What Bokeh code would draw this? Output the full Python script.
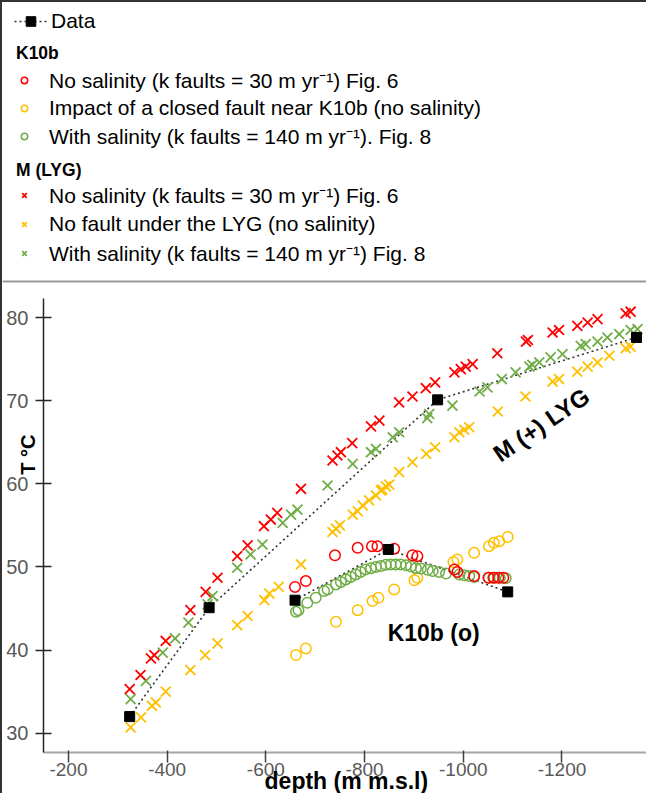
import math
from bokeh.plotting import figure
from bokeh.models import Range1d, Legend, LegendItem, Span, Label, FixedTicker
from bokeh.embed import file_html
from bokeh.resources import INLINE

FONT = "Liberation Sans"

# ---- Measured data (black squares, joined by dotted line) ----
m_data_depth = [-324, -485, -948, -1351]
m_data_temp = [32.0, 45.1, 70.1, 77.6]
k_data_depth = [-659, -848, -1090]
k_data_temp = [46.0, 52.1, 47.0]

# ---- M (LYG) model series (x markers) ----
m_nosal_depth = [-324, -346, -367, -374, -397, -447, -478, -502, -542, -563, -596, -610, -623, -671,
                 -735, -745, -752, -775, -813, -830, -870, -897, -924, -943, -982, -995, -1005, -1019,
                 -1069, -1127, -1131, -1181, -1194, -1231, -1252, -1272, -1329, -1339]
m_nosal_temp = [35.3, 37.0, 39.0, 39.4, 41.1, 44.8, 47.0, 48.7, 51.3, 52.6, 54.9, 55.7, 56.5, 59.4,
                62.8, 63.4, 63.8, 64.9, 66.9, 67.6, 69.8, 70.5, 71.5, 72.2, 73.4, 73.8, 74.1, 74.4,
                75.7, 77.1, 77.3, 78.2, 78.5, 79.0, 79.4, 79.8, 80.5, 80.7]

m_nofault_depth = [-326, -347, -369, -377, -397, -447, -477, -502, -542, -563, -597, -607, -626, -671,
                   -735, -742, -750, -776, -786, -796, -809, -823, -833, -836, -843, -850, -870, -897,
                   -925, -943, -982, -992, -1002, -1012, -1070, -1126, -1181, -1194, -1231, -1252,
                   -1272, -1296, -1329, -1339]
m_nofault_temp = [30.7, 31.9, 33.3, 33.7, 35.0, 37.6, 39.4, 40.8, 43.0, 44.1, 46.0, 46.8, 47.6, 50.3,
                  54.2, 54.6, 55.0, 56.3, 56.7, 57.4, 58.0, 58.6, 59.2, 59.3, 59.7, 59.9, 61.4, 62.6,
                  63.6, 64.4, 65.6, 66.2, 66.5, 66.8, 68.7, 70.5, 72.3, 72.6, 73.5, 74.1,
                  74.6, 75.4, 76.3, 76.5]

m_sal_depth = [-326, -357, -391, -416, -443, -482, -492, -542, -569, -593, -634, -651, -664, -725,
               -776, -813, -823, -857, -870, -927, -931, -978, -1033, -1049, -1078, -1106, -1134,
               -1140, -1154, -1177, -1201, -1238, -1248, -1272, -1292, -1316, -1339, -1353]
m_sal_temp = [34.1, 36.3, 39.7, 41.4, 43.3, 45.5, 46.5, 49.9, 51.5, 52.7, 55.3, 56.3, 56.9, 59.8,
              62.4, 63.8, 64.2, 65.6, 66.2, 67.9, 68.4, 69.4, 71.1, 71.6, 72.6, 73.4, 74.1,
              74.3, 74.6, 75.2, 75.6, 76.6, 76.8, 77.1, 77.6, 78.0, 78.5, 78.6]

# ---- K10b model series (circles) ----
k_nosal_depth = [-659, -681, -740, -786, -815, -826, -860, -897, -907, -982, -988, -1022,
                 -1051, -1061, -1071, -1081]
k_nosal_temp = [47.6, 48.3, 51.4, 52.3, 52.5, 52.5, 52.2, 51.4, 51.3, 49.7, 49.4, 48.9,
                48.7, 48.7, 48.7, 48.7]

k_closed_depth = [-661, -681, -742, -786, -816, -828, -860, -901, -907, -980, -988, -1022,
                  -1052, -1062, -1073, -1090]
k_closed_temp = [39.4, 40.2, 43.4, 44.8, 45.9, 46.3, 47.3, 48.4, 48.7, 50.6, 50.9, 51.7,
                 52.5, 52.9, 53.1, 53.6]

k_sal_depth = [-661, -666, -684, -701, -718, -725, -742, -752, -762, -772, -782, -792, -802, -813,
               -823, -833, -843, -853, -863, -873, -884, -894, -904, -914, -928, -938, -951, -965,
               -992, -1002, -1012, -1022, -1052, -1063, -1074, -1086]
k_sal_temp = [44.6, 44.8, 45.7, 46.3, 47.1, 47.3, 47.9, 48.2, 48.5, 48.8, 49.1, 49.4, 49.7, 49.85,
              50.0, 50.1, 50.25, 50.3, 50.3, 50.3, 50.2, 50.05, 49.85, 49.8, 49.65, 49.5, 49.4, 49.2,
              49.1, 49.0, 48.9, 48.8, 48.7, 48.7, 48.7, 48.65]

x_ticks = [-200, -400, -600, -800, -1000, -1200]
y_ticks = [30, 40, 50, 60, 70, 80]

lbl_k_nosal = "No salinity (k faults = 30 m yr\u207b\u00b9) Fig. 6"
lbl_k_closed = "Impact of a closed fault near K10b (no salinity)"
lbl_k_sal = "With salinity (k faults = 140 m yr\u207b\u00b9). Fig. 8"
lbl_m_nosal = "No salinity (k faults = 30 m yr\u207b\u00b9) Fig. 6"
lbl_m_nofault = "No fault under the LYG (no salinity)"
lbl_m_sal = "With salinity (k faults = 140 m yr\u207b\u00b9) Fig. 8"

RED = "#FF0000"
YELLOW = "#FFC000"
GREEN = "#70AD47"

# layout constants (axis placement inside the frame)
X_AXIS_AT = 27.68      # temperature where the depth axis is drawn
Y_AXIS_AT = -149.3     # depth where the temperature axis is drawn
SEPARATOR_AT = 84.33   # temperature of the legend/plot separator line

p = figure(width=646, height=793,
           x_range=Range1d(-66.3, -1375.3), y_range=Range1d(22.51, 117.89),
           output_backend="svg", toolbar_location=None,
           min_border_left=0, min_border_right=0, min_border_top=0, min_border_bottom=0)
p.styles = {"border-top": "2px solid #333333", "border-left": "2px solid #333333"}
p.xgrid.visible = False
p.ygrid.visible = False
p.outline_line_color = None

# data lines
m_line = p.line(m_data_depth, m_data_temp, line_color="#333333", line_width=1.6, line_dash="2 3")
k_line = p.line(k_data_depth, k_data_temp, line_color="#333333", line_width=1.6, line_dash="2 3")

# M (LYG) crosses
XS = 14
r_m_nofault = p.scatter(m_nofault_depth, m_nofault_temp, marker="x", size=XS,
                        line_color=YELLOW, line_width=1.8)
r_m_sal = p.scatter(m_sal_depth, m_sal_temp, marker="x", size=XS, line_color=GREEN, line_width=1.8)
r_m_nosal = p.scatter(m_nosal_depth, m_nosal_temp, marker="x", size=XS, line_color=RED, line_width=1.8)

# K10b circles
CS = 10.5
r_k_closed = p.scatter(k_closed_depth, k_closed_temp, marker="circle", size=CS, fill_color=None,
                       line_color=YELLOW, line_width=1.5)
r_k_sal = p.scatter(k_sal_depth, k_sal_temp, marker="circle", size=CS, fill_color=None,
                    line_color=GREEN, line_width=1.5)
r_k_nosal = p.scatter(k_nosal_depth, k_nosal_temp, marker="circle", size=CS, fill_color=None,
                      line_color=RED, line_width=1.5)

# data squares
m_sq = p.scatter(m_data_depth, m_data_temp, marker="square", size=10, color="black")
k_sq = p.scatter(k_data_depth, k_data_temp, marker="square", size=10, color="black")

# axes drawn at fixed positions inside the frame
xa = p.xaxis[0]
xa.fixed_location = X_AXIS_AT
xa.bounds = (-1380, Y_AXIS_AT)
xa.ticker = FixedTicker(ticks=x_ticks)
xa.major_label_overrides = {t: str(t) for t in x_ticks}
xa.major_label_text_font = FONT
xa.major_label_text_font_size = "19px"
xa.major_label_text_color = "#595959"
xa.major_label_standoff = 0
xa.major_tick_in = 2
xa.major_tick_out = 10
xa.minor_tick_line_color = None
xa.axis_line_color = "#a6a6a6"
xa.axis_line_width = 2
xa.major_tick_line_color = "#404040"
xa.major_tick_line_width = 1.5

ya = p.yaxis[0]
ya.fixed_location = Y_AXIS_AT
ya.bounds = (X_AXIS_AT, 82.3)
ya.ticker = FixedTicker(ticks=y_ticks)
ya.major_label_text_font = FONT
ya.major_label_text_font_size = "20px"
ya.major_label_text_color = "#595959"
ya.major_label_standoff = 7
ya.major_tick_in = 8
ya.major_tick_out = 8
ya.minor_tick_line_color = None
ya.axis_line_color = "#262626"
ya.axis_line_width = 1.5
ya.major_tick_line_color = "#262626"
ya.major_tick_line_width = 1.5

# separator between legend and plot
p.add_layout(Span(location=SEPARATOR_AT, dimension="width", line_color="#9a9a9a", line_width=2))

# axis titles
p.add_layout(Label(x=-118, y=63.5, text="T \u00b0C", angle=math.pi / 2, text_align="center",
                   text_baseline="middle", text_font=FONT, text_font_style="bold",
                   text_font_size="20px", text_color="black"))
p.add_layout(Label(x=-763, y=24.2, text="depth (m m.s.l)", text_align="center",
                   text_baseline="middle", text_font=FONT, text_font_style="bold",
                   text_font_size="23px", text_color="black"))

# in-plot annotations
p.add_layout(Label(x=-1158, y=67.1, text="M (+) LYG", angle=0.60, text_align="center",
                   text_baseline="middle", text_font=FONT, text_font_style="bold",
                   text_font_size="24px", text_color="black"))
p.add_layout(Label(x=-940, y=42.1, text="K10b (o)", text_align="center",
                   text_baseline="middle", text_font=FONT, text_font_style="bold",
                   text_font_size="23px", text_color="black"))


def make_legend(items, loc, padding, title=None, glyph_width=16, standoff=17, title_standoff=5,
                spacing=3):
    kw = dict(items=items, location=loc, orientation="vertical", margin=0, padding=padding,
              spacing=spacing, label_height=24, glyph_height=24, glyph_width=glyph_width,
              label_standoff=standoff, label_text_font=FONT, label_text_font_size="21px",
              label_text_color="black", border_line_color=None, background_fill_alpha=0)
    if title is not None:
        kw.update(title=title, title_text_font=FONT, title_text_font_style="bold",
                  title_text_font_size="17.5px", title_text_color="black",
                  title_standoff=title_standoff)
    return Legend(**kw)


leg_d = make_legend([LegendItem(label="Data", renderers=[m_line, m_sq])],
                    loc=(12, 762), padding=6, glyph_width=33, standoff=4)
leg_k = make_legend([LegendItem(label=lbl_k_nosal, renderers=[r_k_nosal]),
                     LegendItem(label=lbl_k_closed, renderers=[r_k_closed]),
                     LegendItem(label=lbl_k_sal, renderers=[r_k_sal])],
                    loc=(14, 645), padding=4, title="K10b", title_standoff=2, spacing=2)
leg_m = make_legend([LegendItem(label=lbl_m_nosal, renderers=[r_m_nosal]),
                     LegendItem(label=lbl_m_nofault, renderers=[r_m_nofault]),
                     LegendItem(label=lbl_m_sal, renderers=[r_m_sal])],
                    loc=(14, 528), padding=4, title="M (LYG)", title_standoff=-2, spacing=3)

p.add_layout(leg_d)
p.add_layout(leg_k)
p.add_layout(leg_m)

open("out.html", "w").write(file_html(p, INLINE))
